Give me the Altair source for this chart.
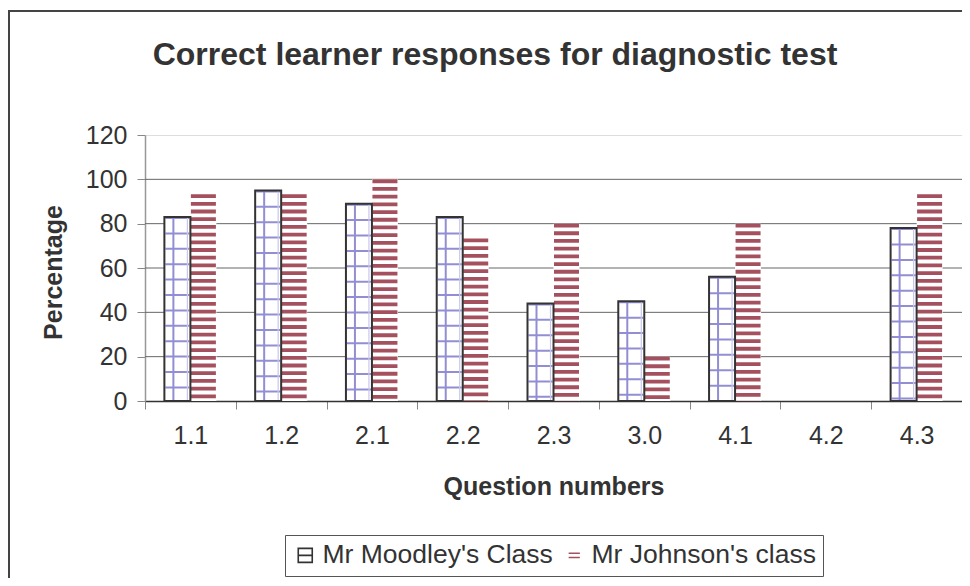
import altair as alt
import pandas as pd

questions = ["1.1", "1.2", "2.1", "2.2", "2.3", "3.0", "4.1", "4.2", "4.3"]
moodley = [83, 95, 89, 83, 44, 45, 56, 0, 78]
johnson = [93.3, 93.3, 100, 73.3, 80, 20, 80, 0, 93.3]
series = ["Mr Moodley's Class", "Mr Johnson's class"]
y_ticks = [0, 20, 40, 60, 80, 100, 120]
grid_vals = [20, 40, 60, 80, 100]
title_text = "Correct learner responses for diagnostic test"

FONT = "Liberation Sans"
TXT = "#333333"
PURPLE = "#928ED3"
RED = "#A5505E"

df = pd.DataFrame({"question": questions, "moodley": moodley, "johnson": johnson})
grid_df = pd.DataFrame({"v": grid_vals})
leg_df = pd.DataFrame({"series": series})
one = pd.DataFrame({"t": [title_text]})

xenc = alt.X(
    "question:N", sort=questions,
    scale=alt.Scale(domain=questions, paddingInner=0, paddingOuter=0),
    axis=alt.Axis(
        title="Question numbers", labelAngle=0, tickBand="extent", tickSize=8,
        tickColor="#888888", domainColor="#333333", domainWidth=1.5,
        labelFontSize=25, labelPadding=14, labelColor=TXT, labelFont=FONT,
        titleFontSize=25, titleFontWeight="bold", titleColor=TXT, titleFont=FONT,
        titleY=93, titleBaseline="alphabetic", grid=False,
    ),
)
yscale = alt.Scale(domain=[0, 120], nice=False)
yaxis = alt.Axis(
    values=y_ticks, tickSize=8, tickColor="#888888", domainColor="#999999",
    domainWidth=1.5, grid=False, labelFontSize=25, labelPadding=10,
    labelColor=TXT, labelFont=FONT, title="Percentage", titleFontSize=25,
    titleFontWeight="bold", titleColor=TXT, titleFont=FONT, titleX=-84,
    titleY=137, titleAngle=270, titleBaseline="alphabetic", titleAlign="center",
)

base = alt.Chart(df)

gridlines = alt.Chart(grid_df).mark_rule(color="#666666", strokeWidth=1).encode(
    y=alt.Y("v:Q", scale=yscale, axis=yaxis),
)

nonzero_m = base.transform_filter("datum.moodley > 0")
nonzero_j = base.transform_filter("datum.johnson > 0")

m_white = nonzero_m.mark_bar(width=26, xOffset=-13, fill="white", strokeWidth=0).encode(
    x=xenc, y=alt.Y("moodley:Q", scale=yscale, axis=yaxis))
j_white = nonzero_j.mark_bar(width=26, xOffset=13, fill="white", strokeWidth=0).encode(
    x=xenc, y=alt.Y("johnson:Q", scale=yscale, axis=yaxis))

m_hgrid = nonzero_m.mark_rule(strokeWidth=24, strokeDash=[2, 13.4], color=PURPLE,
                              xOffset=-13).encode(
    x=xenc, y=alt.Y("moodley:Q", scale=yscale, axis=yaxis), y2=alt.datum(0))
m_vgrid = nonzero_m.mark_rule(strokeWidth=2, color=PURPLE, xOffset=-17).encode(
    x=xenc, y=alt.Y("moodley:Q", scale=yscale, axis=yaxis), y2=alt.datum(0))
m_vgrid2 = nonzero_m.mark_rule(strokeWidth=1.2, color="#C9C7EC", xOffset=-3).encode(
    x=xenc, y=alt.Y("moodley:Q", scale=yscale, axis=yaxis), y2=alt.datum(0))
j_stripes = nonzero_j.mark_rule(strokeWidth=25, strokeDash=[3.8, 3.9], color=RED,
                                xOffset=13).encode(
    x=xenc, y=alt.Y("johnson:Q", scale=yscale, axis=yaxis), y2=alt.datum(0))
m_outline = nonzero_m.mark_bar(width=26, xOffset=-13, fillOpacity=0, stroke="#333333",
                               strokeWidth=2).encode(
    x=xenc, y=alt.Y("moodley:Q", scale=yscale, axis=yaxis))

legend_layer = alt.Chart(leg_df).mark_point(filled=False, strokeWidth=1.5).encode(
    x=alt.value(-500), y=alt.value(-500),
    color=alt.Color("series:N", scale=alt.Scale(domain=series, range=["#333333", RED]),
                    legend=alt.Legend(
                        orient="none", legendX=140, legendY=400, direction="horizontal",
                        title=None, labelFontSize=26.5, labelColor=TXT, labelFont=FONT,
                        labelLimit=0,
                        symbolSize=196, symbolStrokeWidth=1.6, strokeColor="#555555",
                        padding=7, labelOffset=4, columnPadding=8, symbolOpacity=1)),
    shape=alt.Shape("series:N", scale=alt.Scale(
        domain=series,
        range=["M-1,-1H1V1H-1ZM-1,0H1", "M-0.8,-0.3H0.8M-0.8,0.3H0.8"])),
)

title_layer = alt.Chart(one).mark_text(
    fontSize=32, font=FONT, fontWeight="bold", color=TXT, align="center",
    baseline="alphabetic").encode(
    text="t:N", x=alt.value(350), y=alt.value(-70))

frame_left = alt.Chart(one).mark_rule(color="#444444", strokeWidth=2).encode(
    x=alt.value(-136), y=alt.value(-124), y2=alt.value(445))
frame_top = alt.Chart(one).mark_rule(color="#444444", strokeWidth=2).encode(
    x=alt.value(-137), x2=alt.value(820), y=alt.value(-124))

chart = alt.layer(
    gridlines, m_white, j_white, m_hgrid, m_vgrid, m_vgrid2, j_stripes, m_outline,
    legend_layer, title_layer, frame_left, frame_top,
).properties(
    width=817, height=266,
    autosize=alt.AutoSizeParams(type="none"),
    padding={"left": 137, "top": 127, "right": 0, "bottom": 177},
).configure_view(stroke=None).configure(font=FONT)

chart.save("out.html", embed_options={"renderer": "svg", "actions": False})
